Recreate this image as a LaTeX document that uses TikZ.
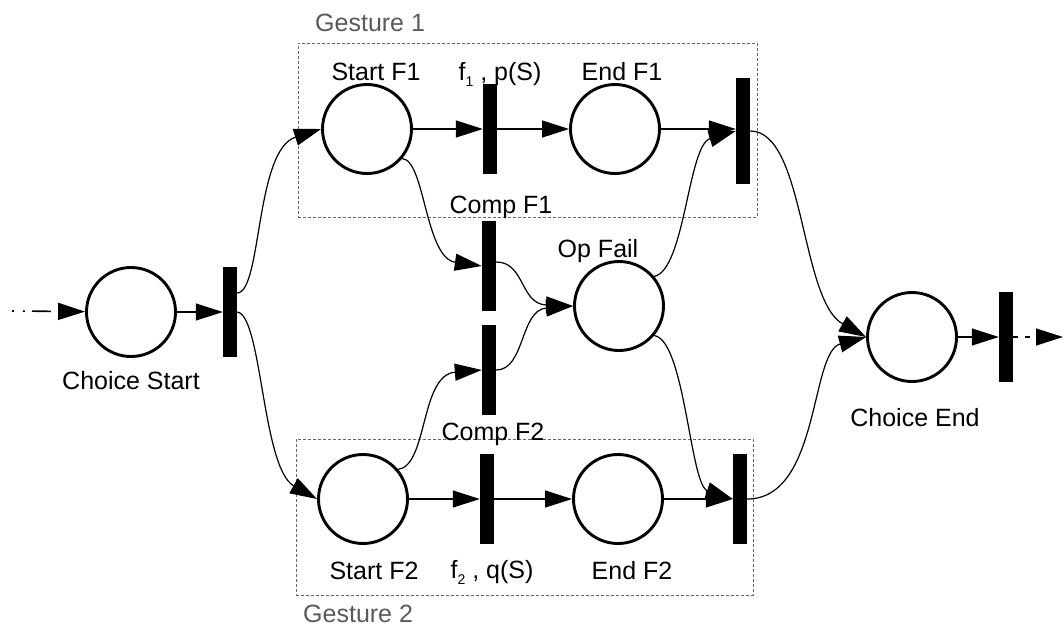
\documentclass[tikz,border=0pt]{standalone}
\usepackage{fontspec}
\setmainfont{Liberation Sans}
\usetikzlibrary{arrows.meta,calc}
\begin{document}
\begin{tikzpicture}[x=1pt,y=-1pt,
  place/.style={draw, circle, line width=2.9pt, minimum size=89pt, inner sep=0pt},
  trans/.style={fill=black, draw=none, minimum width=14pt, minimum height=90pt, inner sep=0pt},
  lbl/.style={anchor=base, inner sep=0pt, font=\fontsize{25}{30}\selectfont},
  glbl/.style={lbl, anchor=base west, text=black!65},
  gbox/.style={draw=black!60, line width=0.9pt, dash pattern=on 3pt off 2pt, inner sep=0pt},
  arr/.style={line width=1.2pt, -{Triangle[length=27pt,width=17pt]}}
]
\useasboundingbox (0,0) rectangle (1064,626);

% gesture groups
\node[gbox, minimum width=459pt, minimum height=174pt] (g1) at (527.5,130) {};
\node[gbox, minimum width=457pt, minimum height=156pt] (g2) at (524.5,517) {};
\node[glbl] (g1l) at (315,32) {Gesture 1};
\node[glbl] (g2l) at (303,622) {Gesture 2};

% places and transitions
\node[place] (cs) at (131,312) {};
\node[trans] (t0) at (230,312) {};
\node[place] (sf1) at (367,129) {};
\node[trans] (f1) at (490,129) {};
\node[place] (ef1) at (615,129) {};
\node[trans, minimum height=106pt] (j1) at (743,131) {};
\node[trans] (c1) at (489,266) {};
\node[trans] (c2) at (489,370) {};
\node[place] (op) at (619,306) {};
\node[place] (sf2) at (363,499) {};
\node[trans] (f2) at (487,499) {};
\node[place] (ef2) at (618,499) {};
\node[trans] (j2) at (740,499) {};
\node[place] (ce) at (912,337) {};
\node[trans] (t9) at (1006,337) {};

% labels
\node[lbl] (csl) at (131,389) {Choice Start};
\node[lbl] (sf1l) at (376,80) {Start F1};
\node[lbl] (f1l) at (500,80) {f\raisebox{-6pt}{\fontsize{14}{14}\selectfont 1} , p(S)};
\node[lbl] (ef1l) at (622,80) {End F1};
\node[lbl] (c1l) at (501,213) {Comp F1};
\node[lbl] (opl) at (598,257) {Op Fail};
\node[lbl] (c2l) at (493,440) {Comp F2};
\node[lbl] (sf2l) at (374,579) {Start F2};
\node[lbl] (f2l) at (492,578) {f\raisebox{-6pt}{\fontsize{14}{14}\selectfont 2} , q(S)};
\node[lbl] (ef2l) at (632,579) {End F2};
\node[lbl] (cel) at (915,426) {Choice End};

% open ends
\coordinate (in) at (12,311);
\coordinate (out) at (1063,337);

% straight arcs
\draw[arr, line width=1.6pt, dash pattern=on 2pt off 9pt on 2pt off 7pt on 17pt off 0pt] (in) -- (cs);
\draw[arr] (cs) -- (t0);
\draw[arr] (sf1) -- (f1);
\draw[arr] (f1) -- (ef1);
\draw[arr] (ef1) -- (ef1 -| j1.west);
\draw[arr] (sf2) -- (f2);
\draw[arr] (f2) -- (ef2);
\draw[arr] (ef2) -- (ef2 -| j2.west);
\draw[arr] (ce) -- (t9);
\draw[arr, dash pattern=on 5pt off 7pt] (t9) -- (out);

% curved arcs
\draw[arr] ($(t0.east)+(0,-19)$) .. controls (262,292) and (255,150) .. (sf1.west);
\draw[arr] (t0.east) .. controls (262,315) and (262,468) .. (sf2.west);
\draw[arr] (sf1.-40) .. controls (425,160) and (425,258) .. (c1.west);
\draw[arr] ($(c1.east)+(0,-4)$) .. controls (525,262) and (520,304) .. (op.west);
\draw[arr] (c2.east) .. controls (525,370) and (520,310) .. (op.west);
\draw[arr] (sf2.40) .. controls (428,465) and (420,375) .. (c2.west);
\draw[arr] (op.40) .. controls (685,270) and (688,145) .. (j1.west);
\draw[arr] (op.-40) .. controls (685,340) and (690,485) .. (j2.west);
\draw[arr] (j1.east) .. controls (805,131) and (800,300) .. (ce.west);
\draw[arr] (j2.east) .. controls (820,499) and (810,352) .. (ce.west);
\end{tikzpicture}
\end{document}
